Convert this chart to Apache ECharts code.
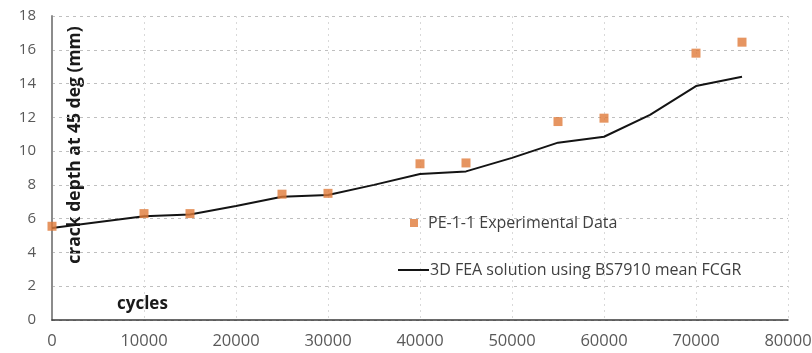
<!DOCTYPE html>
<html>
<head>
<meta charset="utf-8">
<script src="https://cdn.jsdelivr.net/npm/echarts@6/dist/echarts.min.js"></script>
<style>
  html, body { margin: 0; padding: 0; background: #fff; }
  #chart { width: 812px; height: 353px; }
</style>
</head>
<body>
<div id="chart"></div>
<script>
// Measured crack depth (PE-1-1 specimen)
const expCycles = [0, 10000, 15000, 25000, 30000, 40000, 45000, 55000, 60000, 70000, 75000];
const expDepth  = [5.55, 6.3, 6.3, 7.45, 7.5, 9.25, 9.3, 11.75, 11.95, 15.8, 16.45];

// 3D FEA prediction with BS7910 mean fatigue crack growth rate
const feaCycles = [0, 10000, 15000, 20000, 25000, 30000, 35000, 40000, 45000, 50000, 55000, 60000, 65000, 70000, 75000];
const feaDepth  = [5.45, 6.15, 6.25, 6.75, 7.3, 7.4, 8.0, 8.65, 8.8, 9.6, 10.5, 10.85, 12.15, 13.85, 14.4];

const seriesNames = ['PE-1-1 Experimental Data', '3D FEA solution using BS7910 mean FCGR'];
const xTitle = 'cycles';
const yTitle = 'crack depth at 45 deg (mm)';

const pair = (xs, ys) => xs.map((x, i) => [x, ys[i]]);

const font = '"Open Sans", "Liberation Sans", sans-serif';
const chart = echarts.init(document.getElementById('chart'));

chart.setOption({
  animation: false,
  backgroundColor: '#ffffff',
  grid: { left: 52, right: 24, top: 16, bottom: 33, containLabel: false, outerBoundsMode: 'none' },
  xAxis: {
    type: 'value', min: 0, max: 80000, interval: 10000,
    axisLine: { show: true, lineStyle: { color: '#3a3a3a', width: 1.5 } },
    axisTick: { show: false },
    axisLabel: { color: '#595959', fontSize: 16.5, fontFamily: font, margin: 13, formatter: v => String(v) },
    splitLine: { show: true, lineStyle: { color: '#d9d9d9', type: [2, 4], width: 1 } }
  },
  yAxis: {
    type: 'value', min: 0, max: 18, interval: 2,
    axisLine: { show: true, lineStyle: { color: '#8c8c8c', width: 2 } },
    axisTick: { show: false },
    axisLabel: { color: '#595959', fontSize: 15, fontFamily: font, margin: 16 },
    splitLine: { show: true, lineStyle: { color: '#bfbfbf', type: [3, 4], width: 1 } }
  },
  legend: [
    {
      data: [seriesNames[0]], left: 405, top: 210, orient: 'horizontal',
      icon: 'rect', itemWidth: 8, itemHeight: 8,
      textStyle: { color: '#404040', fontSize: 16, fontFamily: font, padding: [0, 0, 0, 5] }
    },
    {
      data: [seriesNames[1]], left: 393, top: 257, orient: 'horizontal',
      icon: 'rect', itemWidth: 31, itemHeight: 2,
      textStyle: { color: '#404040', fontSize: 16, fontFamily: font, padding: [0, 0, 0, -4] }
    }
  ],
  graphic: [
    {
      type: 'text', left: 117, top: 296,
      style: { text: xTitle, fill: '#1a1a1a', fontSize: 17, fontWeight: 'bold', fontFamily: font }
    },
    {
      type: 'text', x: 75, y: 145, rotation: Math.PI / 2,
      style: {
        text: yTitle, fill: '#1a1a1a', fontSize: 17.5, fontWeight: 'bold', fontFamily: font,
        align: 'center', verticalAlign: 'middle'
      }
    }
  ],
  series: [
    {
      name: seriesNames[1], type: 'line', data: pair(feaCycles, feaDepth),
      symbol: 'none', lineStyle: { color: '#141414', width: 2 },
      itemStyle: { color: '#141414' }, z: 2
    },
    {
      name: seriesNames[0], type: 'scatter', data: pair(expCycles, expDepth),
      symbol: 'rect', symbolSize: 9,
      itemStyle: { color: '#E07B39' }, z: 3
    }
  ]
});
</script>
</body>
</html>
